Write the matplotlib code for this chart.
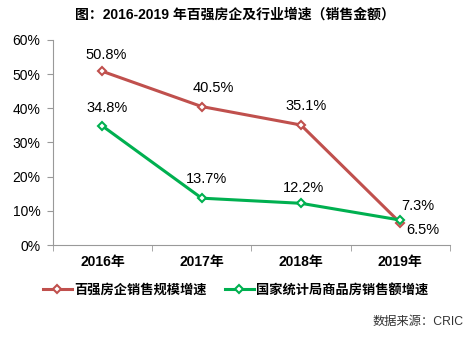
import matplotlib
matplotlib.use("Agg")
import matplotlib.pyplot as plt

plt.rcParams['font.family'] = ['Liberation Sans', 'Noto Sans CJK SC', 'DejaVu Sans']

years = ['2016年', '2017年', '2018年', '2019年']
top100 = [50.8, 40.5, 35.1, 6.5]
nbs = [34.8, 13.7, 12.2, 7.3]
yticks = [0, 10, 20, 30, 40, 50, 60]

red = '#C0504D'
green = '#00B050'

fig = plt.figure(figsize=(4.76, 3.41), dpi=100)
ax = fig.add_axes([0.111, 0.2815, 0.834, 0.6015])
x = list(range(len(years)))
ax.plot(x, top100, color=red, lw=2.2, marker='D', ms=4.5, mfc='white', mec=red, mew=1.5,
        label='百强房企销售规模增速', zorder=3)
ax.plot(x, nbs, color=green, lw=2.2, marker='D', ms=4.5, mfc='white', mec=green, mew=1.5,
        label='国家统计局商品房销售额增速', zorder=4)

ax.set_xlim(-0.5, 3.5)
ax.set_ylim(0, 60)
ax.set_yticks(yticks)
ax.set_yticklabels([f'{v}%' for v in yticks], fontsize=10)
ax.set_xticks(x)
ax.set_xticklabels(years, fontsize=10, fontweight='bold')
ax.set_xticks([-0.5, 0.5, 1.5, 2.5, 3.5], minor=True)
ax.tick_params(axis='x', which='major', length=0, pad=7)
ax.tick_params(axis='x', which='minor', length=4, color='#999999')
ax.tick_params(axis='y', length=4, color='#999999', pad=5)
for s in ['top', 'right']:
    ax.spines[s].set_visible(False)
for s in ['left', 'bottom']:
    ax.spines[s].set_color('#999999')

lab_kw = dict(fontsize=10.5, ha='center')
offs_top = [(3, 6.5), (8.5, 8), (4, 8.5), (16.5, 0)]
offs_nbs = [(3, 8), (3.5, 9), (2, 6), (13, 5)]
for i, v in enumerate(top100):
    dx, dy = offs_top[i]
    ax.annotate(f'{v}%', (i, v), xytext=(dx, dy), textcoords='offset points',
                va='bottom' if dy > 0 else 'top', **lab_kw)
for i, v in enumerate(nbs):
    dx, dy = offs_nbs[i]
    ax.annotate(f'{v}%', (i, v), xytext=(dx, dy), textcoords='offset points',
                va='bottom', **lab_kw)

fig.text(0.494, 0.956, '图：2016-2019 年百强房企及行业增速（销售金额）', ha='center', va='center',
         fontsize=10, fontweight='bold')
ax.legend(loc='center', bbox_to_anchor=(0.46, -0.22), ncol=2, frameon=False,
          prop={'size': 9.5, 'weight': 'bold'}, handlelength=2.2, columnspacing=1.4,
          handletextpad=0.15)
fig.text(0.973, 0.056, '数据来源：CRIC', ha='right', va='center', fontsize=8.8, color='#333333')

fig.savefig('out.png', dpi=100)
